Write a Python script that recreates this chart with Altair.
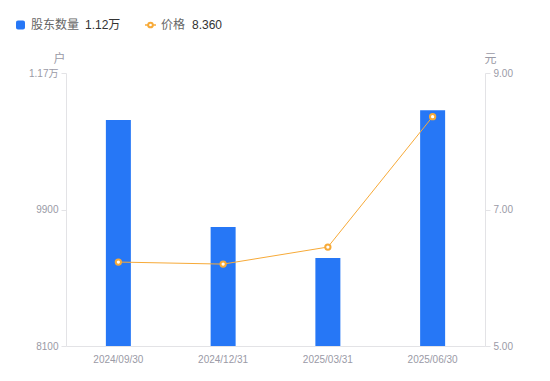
import altair as alt
import pandas as pd

dates = ["2024/09/30", "2024/12/31", "2025/03/31", "2025/06/30"]
holders = [11080, 9670, 9260, 11210]
prices = [6.23, 6.20, 6.45, 8.36]

left_ticks = [8100, 9900, 11700]
right_ticks = [5, 7, 9]

df = pd.DataFrame({"date": dates, "holders": holders, "price": prices})
one = pd.DataFrame({"k": [0]})

FONT = "Liberation Sans, Noto Sans CJK SC, sans-serif"
BLUE = "#2677F6"
ORANGE = "#F7AA38"
GRAY = "#9a9aa6"
AX = "#e3e3e6"

x = alt.X("date:N", scale=alt.Scale(paddingInner=0, paddingOuter=0),
          axis=alt.Axis(title=None, labelAngle=0, ticks=False, domainColor=AX,
                        labelColor=GRAY, labelFontSize=10, labelPadding=8, labelFont=FONT))

bars = alt.Chart(df).mark_bar(size=25, color=BLUE, clip=True).encode(
    x=x,
    y=alt.Y("holders:Q",
            scale=alt.Scale(domain=[8100, 11700], nice=False, zero=False),
            axis=alt.Axis(values=left_ticks, grid=False, domainColor=AX, tickColor=AX,
                          tickSize=5, labelColor=GRAY, labelFontSize=10, labelFont=FONT,
                          labelPadding=3,
                          labelExpr="datum.value >= 10000 ? format(datum.value/10000, '.2f') + '万' : datum.value",
                          title="户", titleAngle=0, titleX=-7, titleY=-11,
                          titleAlign="center", titleBaseline="alphabetic",
                          titleColor=GRAY, titleFontSize=12, titleFontWeight="normal",
                          titleFont=FONT)),
    y2=alt.datum(8100),
)

price_y = alt.Y("price:Q",
                scale=alt.Scale(domain=[5, 9], nice=False, zero=False),
                axis=alt.Axis(orient="right", values=right_ticks, format=".2f", grid=False,
                              domainColor=AX, tickColor=AX, tickSize=5, labelColor=GRAY,
                              labelFontSize=10, labelFont=FONT, labelPadding=3,
                              title="元", titleAngle=0, titleX=5, titleY=-11,
                              titleAlign="center", titleBaseline="alphabetic",
                              titleColor=GRAY, titleFontSize=12, titleFontWeight="normal",
                              titleFont=FONT))

line = alt.Chart(df).mark_line(color=ORANGE, strokeWidth=1).encode(x=x, y=price_y)
pts = alt.Chart(df).mark_point(filled=True, fill="white", stroke=ORANGE, strokeWidth=2,
                               size=28, opacity=1).encode(x=x, y=price_y)

prices_layer = alt.layer(line, pts)

LY = -48
# legend
leg_sq = alt.Chart(one).mark_rect(color=BLUE, cornerRadius=2).encode(
    x=alt.value(-50), x2=alt.value(-41), y=alt.value(LY - 4.5), y2=alt.value(LY + 4.5))
leg_t1 = alt.Chart(one).mark_text(align="left", baseline="middle", font=FONT, fontSize=12,
                                  color="#666666").encode(
    x=alt.value(-35), y=alt.value(LY), text=alt.value("股东数量"))
leg_v1 = alt.Chart(one).mark_text(align="left", baseline="middle", font=FONT, fontSize=12,
                                  color="#333333").encode(
    x=alt.value(19), y=alt.value(LY), text=alt.value("1.12万"))
leg_ln = alt.Chart(one).mark_rule(color=ORANGE, strokeWidth=1.5).encode(
    x=alt.value(79), x2=alt.value(90), y=alt.value(LY))
leg_pt = alt.Chart(one).mark_point(filled=True, fill="white", stroke=ORANGE, strokeWidth=2,
                                   size=22, opacity=1).encode(x=alt.value(84.5), y=alt.value(LY))
leg_t2 = alt.Chart(one).mark_text(align="left", baseline="middle", font=FONT, fontSize=12,
                                  color="#666666").encode(
    x=alt.value(95), y=alt.value(LY), text=alt.value("价格"))
leg_v2 = alt.Chart(one).mark_text(align="left", baseline="middle", font=FONT, fontSize=12,
                                  color="#333333").encode(
    x=alt.value(126), y=alt.value(LY), text=alt.value("8.360"))

chart = alt.layer(bars, prices_layer, leg_sq, leg_t1, leg_v1, leg_ln, leg_pt, leg_t2, leg_v2
                  ).resolve_scale(y="independent").properties(
    width=419, height=273,
    autosize=alt.AutoSizeParams(type="none"),
    padding={"left": 58, "top": 65, "right": 50, "bottom": 25},
).configure_view(stroke=None)

chart.save("out.html", embed_options={"renderer": "svg", "actions": False})
